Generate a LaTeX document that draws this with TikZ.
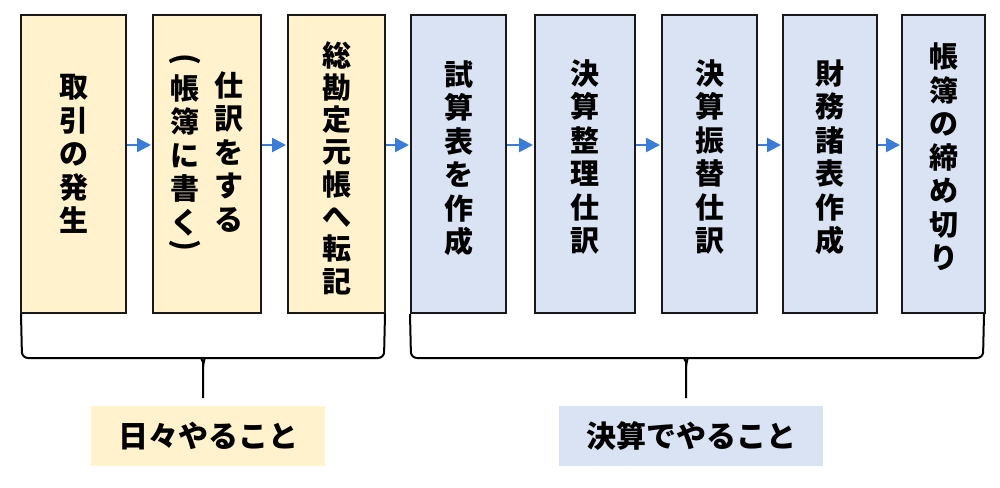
\documentclass[tikz,border=0pt]{standalone}
\usepackage{fontspec}
\newfontfamily\jp{Noto Sans CJK JP}
\usetikzlibrary{arrows.meta}
\definecolor{boxy}{HTML}{FFF2CC}
\definecolor{boxb}{HTML}{DAE3F3}
\definecolor{arrb}{HTML}{3A7DD8}
\tikzset{
  stepbox/.style={draw=black!90, line width=2pt, inner sep=0pt, minimum height=298pt},
  vtxt/.style={align=center, inner sep=0pt, font=\jp\bfseries\fontsize{29}{33.5}\selectfont},
  paren/.style={inner sep=0pt, font=\jp\bfseries\fontsize{30}{33}\selectfont, rotate=-90},
  flow/.style={draw=arrb, line width=2.5pt, -{Triangle[length=14pt,width=14pt]}, shorten >=1pt},
  brace/.style={draw=black, line width=2pt, rounded corners=6pt},
  lbl/.style={inner sep=0pt, minimum height=60pt, font=\jp\bfseries\fontsize{30}{34}\selectfont}
}
\begin{document}
\begin{tikzpicture}[x=1pt,y=-1pt]
\useasboundingbox (0,0) rectangle (1000,487);
\fill[white] (0,0) rectangle (1000,487);
% boxes
\node[stepbox, fill=boxy, minimum width=105pt] (b1) at (73.5,164) {};
\node[stepbox, fill=boxy, minimum width=108pt] (b2) at (207,164) {};
\node[stepbox, fill=boxy, minimum width=97pt] (b3) at (336.5,164) {};
\node[stepbox, fill=boxb, minimum width=95pt] (b4) at (458.5,164) {};
\node[stepbox, fill=boxb, minimum width=100pt] (b5) at (585,164) {};
\node[stepbox, fill=boxb, minimum width=95pt] (b6) at (709.5,164) {};
\node[stepbox, fill=boxb, minimum width=94pt] (b7) at (830,164) {};
\node[stepbox, fill=boxb, minimum width=83pt] (b8) at (943.5,164) {};
% texts
\node[vtxt] (t1) at (74,154) {取\\引\\の\\発\\生};
\node[vtxt] (t2a) at (229,152) {仕\\訳\\を\\す\\る};
\node[vtxt] (t2b) at (185,155) {帳\\簿\\に\\書\\く};
\node[paren] (p1) at (185,59) {(};
\node[paren] (p2) at (185,245) {)};
\node[vtxt, font=\jp\bfseries\fontsize{29}{32.3}\selectfont] (t3) at (337,168) {総\\勘\\定\\元\\帳\\へ\\転\\記};
\node[vtxt] (t4) at (459,158) {試\\算\\表\\を\\作\\成};
\node[vtxt] (t5) at (585,157) {決\\算\\整\\理\\仕\\訳};
\node[vtxt] (t6) at (710,157) {決\\算\\振\\替\\仕\\訳};
\node[vtxt] (t7) at (830,157) {財\\務\\諸\\表\\作\\成};
\node[vtxt] (t8) at (944,157) {帳\\簿\\の\\締\\め\\切\\り};
% arrows
\coordinate (ay) at (0,145);
\draw[flow] (b1.east |- ay) -- (b2.west |- ay);
\draw[flow] (b2.east |- ay) -- (b3.west |- ay);
\draw[flow] (b3.east |- ay) -- (b4.west |- ay);
\draw[flow] (b4.east |- ay) -- (b5.west |- ay);
\draw[flow] (b5.east |- ay) -- (b6.west |- ay);
\draw[flow] (b6.east |- ay) -- (b7.west |- ay);
\draw[flow] (b7.east |- ay) -- (b8.west |- ay);
% labels
\node[lbl, fill=boxy, minimum width=234pt] (l1) at (208,436) {日々やること};
\node[lbl, fill=boxb, minimum width=264pt] (l2) at (691,436) {決算でやること};
% braces
\coordinate (c1) at (203,398);
\coordinate (c2) at (686,398);
\draw[brace] (b1.south west) ++(1,0) -- (22,358) -- (196,358) to[out=0,in=90] (c1 |- 0,367) -- (c1);
\draw[brace] (b3.south east) ++(-1,0) -- (384,358) -- (210,358) to[out=180,in=90] (c1 |- 0,367);
\draw[brace] (b4.south west) -- (411,358) -- (679,358) to[out=0,in=90] (c2 |- 0,367) -- (c2);
\draw[brace] (b8.south east) ++(-2,0) -- (983,358) -- (693,358) to[out=180,in=90] (c2 |- 0,367);
\end{tikzpicture}
\end{document}
